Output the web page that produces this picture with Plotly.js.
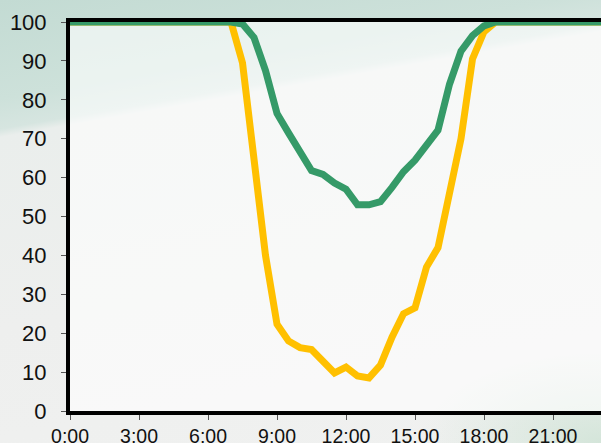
<!DOCTYPE html>
<html>
<head>
<meta charset="utf-8">
<script src="https://cdn.plot.ly/plotly-3.0.1.min.js"></script>
<style>
  html, body { margin: 0; padding: 0; width: 601px; height: 443px; overflow: hidden; }
  body {
    background:
      radial-gradient(ellipse 180px 90px at 601px 443px, rgba(200,224,208,0.7), rgba(200,224,208,0) 100%),
      linear-gradient(170deg, #c3dbd3 0%, #cde1da 18%, #d6e5e0 23.5%, #eaeeec 25%, #eeefee 60%, #f0f1f0 100%);
  }
  #chart { width: 660px; height: 443px; }
</style>
</head>
<body>
<div id="chart"></div>
<script>
// Time of day in hours (0 = 0:00)
const yellowHours = [0, 7, 7.5, 8, 8.5, 9, 9.5, 10, 10.5, 11, 11.5, 12, 12.5, 13, 13.5, 14, 14.5, 15, 15.5, 16, 16.5, 17, 17.5, 18, 18.5, 24];
const yellowValues = [100, 100, 89.5, 65, 40, 22.3, 18, 16.3, 15.8, 12.8, 9.8, 11.3, 9, 8.5, 11.8, 19, 25, 26.5, 37, 42, 55, 70, 90.5, 97.5, 100, 100];

const greenHours = [0, 7, 7.5, 8, 8.5, 9, 9.5, 10, 10.5, 11, 11.5, 12, 12.5, 13, 13.5, 14, 14.5, 15, 15.5, 16, 16.5, 17, 17.5, 18, 18.5, 24];
const greenValues = [100, 100, 99.5, 96, 87.5, 76.5, 71.5, 67, 61.8, 60.8, 58.6, 57, 53, 53, 53.8, 57.5, 61.5, 64.5, 68.3, 72.2, 84, 92.5, 96.5, 99, 100, 100];

const xTickVals = [0, 3, 6, 9, 12, 15, 18, 21];
const xTickText = ['0:00', '3:00', '6:00', '9:00', '12:00', '15:00', '18:00', '21:00'];
const yTickVals = [0, 10, 20, 30, 40, 50, 60, 70, 80, 90, 100];

const traces = [
  { x: yellowHours, y: yellowValues, type: 'scatter', mode: 'lines',
    line: { color: '#FFC000', width: 7 }, hoverinfo: 'skip' },
  { x: greenHours, y: greenValues, type: 'scatter', mode: 'lines',
    line: { color: '#359A68', width: 7 }, hoverinfo: 'skip' }
];

const layout = {
  width: 660, height: 443,
  margin: { l: 70, r: 38, t: 22, b: 32 },
  paper_bgcolor: 'rgba(0,0,0,0)',
  plot_bgcolor: 'rgba(255,255,255,0.6)',
  showlegend: false,
  font: { family: 'Liberation Sans, Arial, sans-serif', color: '#111' },
  xaxis: {
    range: [0, 24], tickvals: xTickVals, ticktext: xTickText,
    showgrid: false, zeroline: false,
    showline: true, linecolor: '#000', linewidth: 4, mirror: true,
    ticks: 'outside', ticklen: 5, tickwidth: 1, tickcolor: '#555',
    tickfont: { size: 19.5, color: '#111' },
    layer: 'below traces'
  },
  yaxis: {
    range: [0, 100], tickvals: yTickVals,
    showgrid: false, zeroline: false,
    showline: true, linecolor: '#000', linewidth: 4, mirror: true,
    ticks: 'outside', ticklen: 5, tickwidth: 1, tickcolor: '#555',
    tickfont: { size: 22, color: '#111' },
    ticklabelstandoff: 10,
    layer: 'below traces'
  }
};

Plotly.newPlot('chart', traces, layout, { displayModeBar: false, staticPlot: true });
</script>
</body>
</html>
